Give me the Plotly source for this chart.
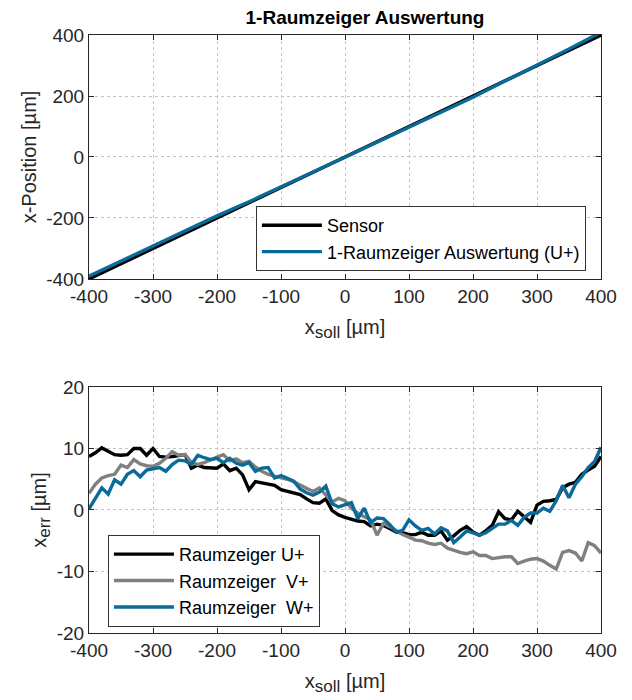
import plotly.graph_objects as go

# ---------------- data ----------------
# top panel
x_top = [-400, -350, -300, -250, -200, -150, -100, -50, 0, 50, 100, 150, 200, 250, 300, 350, 400]
sensor_top = [-400, -350, -300, -250, -200, -150, -100, -50, 0, 50, 100, 150, 200, 250, 300, 350, 400]
raum_top = [-391, -341, -290, -241, -193, -147, -97, -49, -1, 48, 96, 147, 196, 249, 301, 354, 409]

# bottom panel
x_err = list(range(-400, 401, 10))
err_u = [8.7, 9.3, 10.1, 9.5, 9.0, 8.9, 9.0, 10.0, 10.0, 8.9, 10.0, 8.7, 8.6, 8.7, 8.8, 9.0,
         6.8, 7.3, 6.9, 6.9, 6.8, 7.5, 6.4, 6.8, 5.7, 3.3, 4.6, 4.4, 4.2, 4.0, 3.3, 3.0,
         2.7, 2.5, 1.8, 1.2, 1.1, 1.8, -0.1, -0.8, -1.2, -1.5, -1.8, -1.9, -2.6, -2.3, -2.5,
         -3.0, -3.6, -3.7, -4.0, -4.0, -3.6, -4.1, -4.1, -3.4, -4.9, -4.2, -3.3, -2.7, -3.6,
         -4.1, -3.4, -2.5, -0.3, -1.4, -1.6, -0.2, -1.1, -2.0, 0.8, 1.4, 1.5, 1.7, 3.6, 4.2,
         4.5, 5.8, 6.5, 7.1, 8.7]
err_v = [2.7, 4.2, 5.2, 5.6, 5.8, 7.3, 6.9, 8.2, 7.5, 7.2, 7.1, 7.6, 8.4, 9.5, 8.9, 9.0,
         7.8, 7.4, 7.7, 8.2, 8.6, 9.0, 8.0, 8.3, 7.7, 7.9, 7.0, 6.3, 5.8, 5.5, 5.3, 5.0,
         4.6, 4.1, 3.6, 3.0, 3.6, 2.5, 1.3, 1.9, 1.5, 0.3, -0.5, -1.1, -1.6, -4.1, -2.2,
         -2.7, -3.3, -4.0, -4.4, -4.9, -5.0, -5.4, -5.6, -5.4, -6.2, -6.6, -6.9, -7.1, -6.8,
         -7.4, -7.4, -7.9, -7.7, -7.6, -7.6, -8.7, -8.3, -8.0, -7.9, -8.3, -9.0, -9.6, -6.9,
         -6.6, -7.0, -8.3, -5.3, -5.8, -7.0]
err_w = [0.2, 1.8, 3.6, 2.6, 4.9, 4.2, 5.8, 6.4, 5.4, 6.5, 6.7, 6.9, 6.3, 7.4, 8.1, 8.0,
         7.4, 8.9, 8.5, 8.2, 8.4, 7.7, 8.4, 7.6, 7.3, 7.7, 6.3, 6.8, 6.9, 5.2, 5.6, 5.2,
         4.7, 3.4, 2.8, 2.4, 2.9, 3.9, 1.0, 0.5, 0.8, 1.2, -1.4, 0.3, -2.1, -1.3, -1.4,
         -2.4, -3.6, -3.3, -1.6, -2.6, -3.3, -3.0, -3.9, -2.9, -3.4, -5.3, -4.4, -3.4, -3.7,
         -4.1, -3.7, -3.0, -2.3, -2.3, -1.7, -2.5, -1.2, -0.5, -0.5, 0.3, -0.2, 1.5, 4.0,
         2.0, 4.2, 5.4, 6.9, 7.9, 10.2]

x_ticks = [-400, -300, -200, -100, 0, 100, 200, 300, 400]
x_ticklabels = ["-400", "-300", "-200", "-100", "0", "100", "200", "300", "400"]
y_ticks_top = [-400, -200, 0, 200, 400]
y_ticklabels_top = ["-400", "-200", "0", "200", "400"]
y_ticks_bot = [-20, -10, 0, 10, 20]
y_ticklabels_bot = ["-20", "-10", "0", "10", "20"]

# ---------------- styling ----------------
BLACK = "#000000"
GRAY = "#808080"
BLUE = "#0a6a98"
AXC = "#262626"
FONT = "Liberation Sans, Arial, sans-serif"
LW = 3.4

fig = go.Figure()
fig.add_trace(go.Scatter(x=x_top, y=sensor_top, mode="lines", name="Sensor",
                         line=dict(color=BLACK, width=LW), xaxis="x", yaxis="y", legend="legend"))
fig.add_trace(go.Scatter(x=x_top, y=raum_top, mode="lines", name="1-Raumzeiger Auswertung (U+)",
                         line=dict(color=BLUE, width=LW), xaxis="x", yaxis="y", legend="legend"))

fig.add_trace(go.Scatter(x=x_err, y=err_u, mode="lines", name="Raumzeiger U+",
                         line=dict(color=BLACK, width=LW), xaxis="x2", yaxis="y2", legend="legend2"))
fig.add_trace(go.Scatter(x=x_err, y=err_v, mode="lines", name="Raumzeiger\u00a0 V+",
                         line=dict(color=GRAY, width=LW), xaxis="x2", yaxis="y2", legend="legend2"))
fig.add_trace(go.Scatter(x=x_err, y=err_w, mode="lines", name="Raumzeiger\u00a0 W+",
                         line=dict(color=BLUE, width=LW), xaxis="x2", yaxis="y2", legend="legend2"))

axis_common = dict(
    showline=True, linecolor=AXC, linewidth=1, mirror="ticks",
    ticks="inside", ticklen=5, tickcolor=AXC, tickwidth=1,
    showgrid=True, gridcolor="#c4c4c4", griddash="dot", gridwidth=1,
    zeroline=False, tickfont=dict(family=FONT, size=19, color=AXC),
    title_font=dict(family=FONT, size=20, color=AXC), automargin=False,
)

legend_common = dict(
    xanchor="left", yanchor="top",
    bgcolor="white", bordercolor="#333333", borderwidth=1,
    font=dict(family=FONT, size=18, color="#000000"),
    tracegroupgap=0, itemwidth=60,
)

SUB = "<sub><span style='font-size:17px'>{}</span></sub>"
xtitle = "x" + SUB.format("soll") + " [µm]"
ytitle_bot = "x" + SUB.format("err") + " [µm]"

fig.update_layout(
    width=632, height=700,
    margin=dict(l=89, r=31, t=35, b=67),
    paper_bgcolor="white", plot_bgcolor="white",
    font=dict(family=FONT, color=AXC),
    title=dict(text="<b>1-Raumzeiger Auswertung</b>", xref="container", x=365 / 632,
               xanchor="center", y=1 - 17 / 700, yanchor="middle",
               font=dict(family=FONT, size=19, color="#000000")),
    xaxis=dict(domain=[0, 1], range=[-400, 400], tickvals=x_ticks, ticktext=x_ticklabels,
               anchor="y", title=dict(text=xtitle, standoff=14), **axis_common),
    yaxis=dict(domain=[0.592, 1], range=[-400, 400], tickvals=y_ticks_top,
               ticktext=y_ticklabels_top, anchor="x",
               title=dict(text="x-Position [µm]", standoff=4), **axis_common),
    xaxis2=dict(domain=[0, 1], range=[-400, 400], tickvals=x_ticks, ticktext=x_ticklabels,
                anchor="y2", title=dict(text=xtitle, standoff=14), **axis_common),
    yaxis2=dict(domain=[0, 0.4114], range=[-20, 20], tickvals=y_ticks_bot,
                ticktext=y_ticklabels_bot, anchor="x2",
                title=dict(text=ytitle_bot, standoff=4), **axis_common),
    legend=dict(x=0.326, y=0.714, **legend_common),
    legend2=dict(x=0.037, y=0.164, **legend_common),
    showlegend=True,
)

fig.write_html("out.html", config={"displayModeBar": False},
               post_script="document.body.style.margin='0';")
